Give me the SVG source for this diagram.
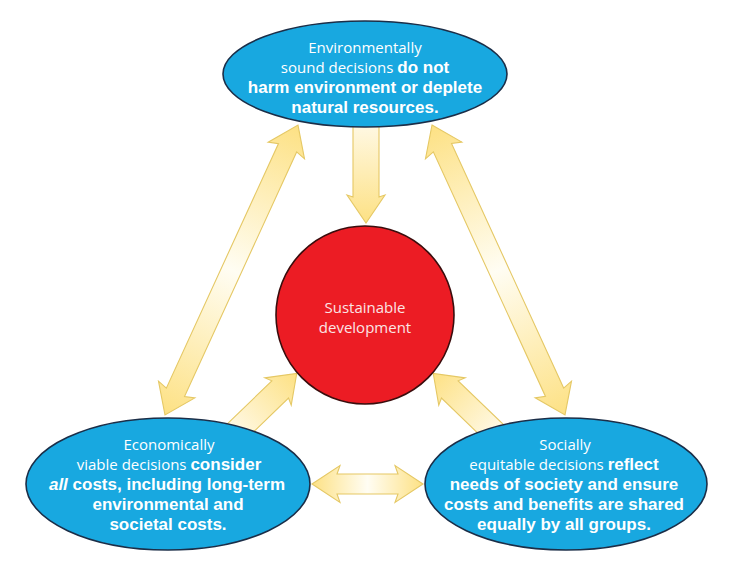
<svg xmlns="http://www.w3.org/2000/svg" width="734" height="570" viewBox="0 0 734 570">
<style>
.bub{fill:#18a8e0;stroke:#1b2e48;stroke-width:1.6}
.core{fill:#ec1c24;stroke:#3a0d0d;stroke-width:1.6}
.arr{stroke:#e5c865;stroke-width:1.1;stroke-linejoin:miter}
.dbl{fill:url(#gDouble)}
.one{fill:url(#gSingle)}
.t{font-family:"Liberation Sans",Arial,sans-serif;font-size:17px;fill:#ffffff;text-anchor:middle}
.r{font-family:"Open Sans","Noto Sans",sans-serif;font-size:15px;font-weight:400}
.b{font-weight:700}
.c{font-family:"Open Sans","Noto Sans",sans-serif;font-size:15px;fill:#fbe4e4;text-anchor:middle}
</style>
<defs>
<linearGradient id="gDouble" x1="0" y1="0" x2="1" y2="0">
<stop offset="0" stop-color="#fde184"/>
<stop offset="0.5" stop-color="#fffdf3"/>
<stop offset="1" stop-color="#fde184"/>
</linearGradient>
<linearGradient id="gSingle" x1="0" y1="0" x2="1" y2="0">
<stop offset="0" stop-color="#fffaea"/>
<stop offset="1" stop-color="#fde184"/>
</linearGradient>
</defs>
<rect width="734" height="570" fill="#ffffff"/>
<g id="connectors">
<!-- top ellipse to centre -->
<polygon class="arr one" transform="translate(366,118) rotate(90)" points="0,-13 79,-13 77,-19 105,0 77,19 79,13 0,13"/>
<!-- left long double arrow -->
<polygon class="arr dbl" transform="translate(165,415) rotate(-65.36)" points="0,0 28,-20 25,-10 294,-10 291,-20 319,0 291,20 294,10 25,10 28,20"/>
<!-- right long double arrow -->
<polygon class="arr dbl" transform="translate(432,125) rotate(65.36)" points="0,0 28,-20 25,-10 294,-10 291,-20 319,0 291,20 294,10 25,10 28,20"/>
<!-- bottom horizontal double arrow -->
<polygon class="arr dbl" transform="translate(312,484)" points="0,0 28,-18.5 25,-10 86,-10 83,-18.5 111,0 83,18.5 86,10 25,10 28,18.5"/>
<!-- bottom-left to centre -->
<polygon class="arr one" transform="translate(232,436) rotate(-44)" points="0,-12 67,-12 64,-19 90,0 64,19 67,12 0,12"/>
<!-- bottom-right to centre -->
<polygon class="arr one" transform="translate(498,436) rotate(-136)" points="0,-12 67,-12 64,-19 90,0 64,19 67,12 0,12"/>
</g>
<g id="environment">
<ellipse class="bub" cx="365" cy="74" rx="142" ry="53"/>
<text class="t" x="365" y="53"><tspan class="r">Environmentally</tspan></text>
<text class="t" x="365" y="73"><tspan class="r">sound decisions </tspan><tspan class="b">do not</tspan></text>
<text class="t b" x="365" y="93">harm environment or deplete</text>
<text class="t b" x="365" y="113">natural resources.</text>
</g>
<g id="sustainable">
<circle class="core" cx="365" cy="315" r="89"/>
<text class="c" x="365" y="313">Sustainable</text>
<text class="c" x="365" y="333">development</text>
</g>
<g id="economic">
<ellipse class="bub" cx="168" cy="484" rx="142" ry="66"/>
<text class="t" x="169" y="450"><tspan class="r">Economically</tspan></text>
<text class="t" x="169" y="470"><tspan class="r">viable decisions </tspan><tspan class="b">consider</tspan></text>
<text class="t b" x="167" y="490"><tspan font-style="italic">all</tspan> costs, including long-term</text>
<text class="t b" x="168" y="510">environmental and</text>
<text class="t b" x="168" y="530">societal costs.</text>
</g>
<g id="social">
<ellipse class="bub" cx="566" cy="484" rx="141" ry="66"/>
<text class="t" x="565" y="450"><tspan class="r">Socially</tspan></text>
<text class="t" x="564" y="470"><tspan class="r">equitable decisions </tspan><tspan class="b">reflect</tspan></text>
<text class="t b" x="564" y="490">needs of society and ensure</text>
<text class="t b" x="564" y="510">costs and benefits are shared</text>
<text class="t b" x="564" y="530">equally by all groups.</text>
</g>
</svg>
